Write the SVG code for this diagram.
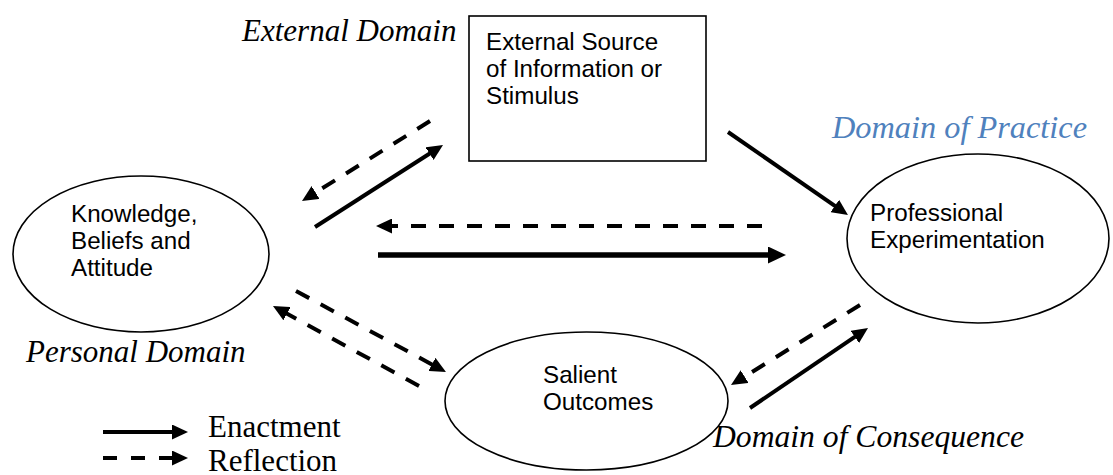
<svg xmlns="http://www.w3.org/2000/svg" width="1113" height="475" viewBox="0 0 1113 475">
<style>
  .node { fill: #fff; stroke: #000; stroke-width: 1.6; }
  .lbl { font-family: "Liberation Sans", Arial, sans-serif; font-size: 24.2px; fill: #000; }
  .dom { font-family: "Liberation Serif", "Times New Roman", serif; font-style: italic; font-size: 31px; fill: #000; }
  .leg { font-family: "Liberation Serif", "Times New Roman", serif; font-size: 31px; fill: #000; }
  .solid { stroke: #000; stroke-width: 4; fill: none; marker-end: url(#head); }
  .thick { stroke: #000; stroke-width: 5.5; fill: none; marker-end: url(#headL); }
  .dash { stroke: #000; stroke-width: 4; fill: none; stroke-dasharray: 15 13; marker-end: url(#head); }
</style>
<defs>
  <marker id="head" markerUnits="userSpaceOnUse" markerWidth="16" markerHeight="15" refX="4" refY="7.5" orient="auto">
    <path d="M0,0 L16,7.5 L0,15 z" fill="#000"/>
  </marker>
  <marker id="headL" markerUnits="userSpaceOnUse" markerWidth="18" markerHeight="17" refX="6" refY="8.5" orient="auto">
    <path d="M0,0 L18,8.5 L0,17 z" fill="#000"/>
  </marker>
</defs>
<rect width="1113" height="475" fill="#fff"/>

<g id="external-domain-label">
  <text class="dom" x="242" y="41">External Domain</text>
</g>
<g id="practice-domain-label">
  <text class="dom" x="832" y="138" style="fill:#4F81BD" textLength="255" lengthAdjust="spacingAndGlyphs">Domain of Practice</text>
</g>
<g id="personal-domain-label">
  <text class="dom" x="26" y="362">Personal Domain</text>
</g>
<g id="consequence-domain-label">
  <text class="dom" x="713" y="447" textLength="311" lengthAdjust="spacingAndGlyphs">Domain of Consequence</text>
</g>

<g id="external-source">
  <rect class="node" x="469" y="16" width="237" height="145"/>
  <text class="lbl" x="486" y="50">External Source</text>
  <text class="lbl" x="486" y="77">of Information or</text>
  <text class="lbl" x="486" y="104">Stimulus</text>
</g>
<g id="knowledge">
  <ellipse class="node" cx="141" cy="254" rx="128" ry="78"/>
  <text class="lbl" x="71" y="222">Knowledge,</text>
  <text class="lbl" x="71" y="249">Beliefs and</text>
  <text class="lbl" x="71" y="276">Attitude</text>
</g>
<g id="professional">
  <ellipse class="node" cx="978" cy="238.5" rx="131" ry="84.5"/>
  <text class="lbl" x="870" y="221">Professional</text>
  <text class="lbl" x="870" y="248">Experimentation</text>
</g>
<g id="salient">
  <ellipse class="node" cx="586.5" cy="401" rx="141.5" ry="69"/>
  <text class="lbl" x="543" y="383">Salient</text>
  <text class="lbl" x="543" y="410">Outcomes</text>
</g>

<g id="connectors">
  <line class="solid" x1="315" y1="227" x2="432.9" y2="151.5"/>
  <line class="dash" x1="430" y1="121" x2="312.2" y2="194.6"/>
  <line class="dash" x1="762" y1="226" x2="388" y2="226"/>
  <line class="thick" x1="378" y1="255" x2="774" y2="255"/>
  <line class="solid" x1="728" y1="132" x2="838.1" y2="208.2"/>
  <line class="dash" x1="296" y1="291" x2="435.4" y2="366.3"/>
  <line class="dash" x1="419" y1="386" x2="283.5" y2="311.8"/>
  <line class="dash" x1="860" y1="305" x2="741.2" y2="378.7"/>
  <line class="solid" x1="750" y1="408" x2="858.1" y2="334.7"/>
</g>

<g id="legend">
  <line class="solid" x1="103" y1="432" x2="176" y2="432"/>
  <line class="dash" x1="103" y1="458" x2="176" y2="458" style="stroke-dasharray:14 14"/>
  <text class="leg" x="208" y="437">Enactment</text>
  <text class="leg" x="208" y="471">Reflection</text>
</g>
</svg>
